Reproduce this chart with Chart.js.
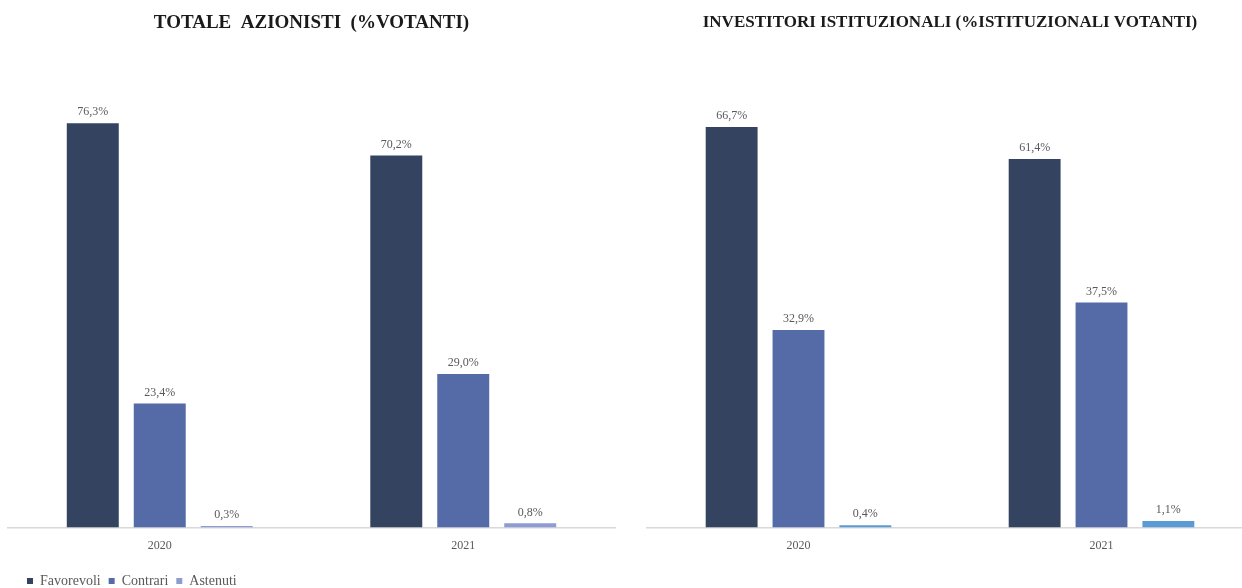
<!DOCTYPE html>
<html>
<head>
<meta charset="utf-8">
<script src="https://cdn.jsdelivr.net/npm/chart.js@4.4.0/dist/chart.umd.min.js"></script>
<style>
  html, body { margin: 0; padding: 0; background: #fff; overflow: hidden; }
  body { width: 1242px; height: 588px; position: relative; }
  .box { position: absolute; top: 0; height: 588px; }
  #leftBox { left: 0; width: 622px; }
  #rightBox { left: 640px; width: 620px; }
</style>
</head>
<body>
<div class="box" id="leftBox"><canvas id="leftChart"></canvas></div>
<div class="box" id="rightBox"><canvas id="rightChart"></canvas></div>
<script>
// =====================================
// DATA
// =====================================
const years = ["2020", "2021"];
const seriesNames = ["Favorevoli", "Contrari", "Astenuti"];

// totale azionisti (% votanti)
const totFavorevoli = [76.3, 70.2];
const totContrari = [23.4, 29.0];
const totAstenuti = [0.3, 0.8];

// investitori istituzionali (% istituzionali votanti)
const istFavorevoli = [66.7, 61.4];
const istContrari = [32.9, 37.5];
const istAstenuti = [0.4, 1.1];

const SERIF = "'Liberation Serif', 'Times New Roman', serif";
const LABEL_COLOR = "#595959";

// =====================================
// VALUE LABELS ABOVE BARS
// =====================================
const valueLabels = {
  id: "valueLabels",
  afterDatasetsDraw(chart) {
    const ctx = chart.ctx;
    ctx.save();
    ctx.font = "12px " + SERIF;
    ctx.fillStyle = LABEL_COLOR;
    ctx.textAlign = "center";
    ctx.textBaseline = "bottom";
    chart.data.datasets.forEach((ds, i) => {
      chart.getDatasetMeta(i).data.forEach((bar, j) => {
        const txt = ds.data[j].toFixed(1).replace(".", ",") + "%";
        ctx.fillText(txt, bar.x, bar.y - 5);
      });
    });
    ctx.restore();
  }
};

// legend sits in the bottom left corner, a bit lower than chart.js puts it
const legendSpot = {
  id: "legendSpot",
  afterLayout(chart) {
    if (!chart.options.plugins.legend.display) return;
    const lg = chart.legend;
    const w = lg.right - lg.left;
    lg.left = 19;
    lg.right = 19 + w;
    const h = lg.bottom - lg.top;
    lg.top = 566;
    lg.bottom = 566 + h;
  }
};

function makeChart(canvasId, title, titleFont, titlePad, data, colors, yMax, showLegend, padding) {
  return new Chart(document.getElementById(canvasId), {
    type: "bar",
    data: {
      labels: years,
      datasets: seriesNames.map((name, i) => ({
        label: name,
        data: data[i],
        backgroundColor: colors[i],
        categoryPercentage: 0.662,
        barPercentage: 0.776
      }))
    },
    options: {
      responsive: true,
      maintainAspectRatio: false,
      animation: false,
      layout: { padding: padding },
      plugins: {
        title: {
          display: true,
          text: title,
          color: "#1a1a1a",
          font: { family: SERIF, size: titleFont, weight: "bold" },
          padding: titlePad
        },
        legend: {
          display: showLegend,
          position: "bottom",
          align: "start",
          labels: {
            boxWidth: 6,
            boxHeight: 6,
            padding: 8,
            color: LABEL_COLOR,
            font: { family: SERIF, size: 14 }
          }
        },
        tooltip: { enabled: false }
      },
      scales: {
        x: {
          grid: { display: false },
          border: { color: "#d9d9d9", width: 1.5 },
          ticks: { color: LABEL_COLOR, font: { family: SERIF, size: 12 }, padding: 3 }
        },
        y: { display: false, min: 0, max: yMax }
      }
    },
    plugins: [valueLabels, legendSpot]
  });
}

makeChart("leftChart", "TOTALE  AZIONISTI  (%VOTANTI)", 19, { top: 12, bottom: 36 },
  [totFavorevoli, totContrari, totAstenuti],
  ["#334360", "#546BA8", "#8E9CD3"],
  86.2, true, { left: 8, right: 7, top: 0, bottom: 0 });

makeChart("rightChart", "INVESTITORI ISTITUZIONALI (%ISTITUZIONALI VOTANTI)", 17, { top: 12, bottom: 37 },
  [istFavorevoli, istContrari, istAstenuti],
  ["#334360", "#546BA8", "#5B9BD5"],
  76.3, false, { left: 7, right: 7, top: 0, bottom: 32 });
</script>
</body>
</html>
